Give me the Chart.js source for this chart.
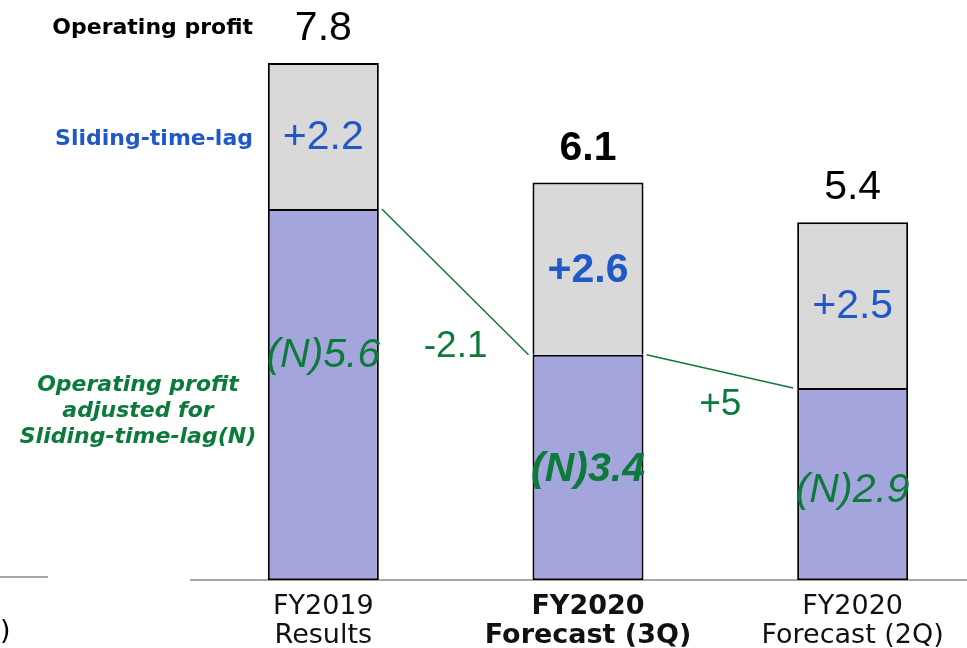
<!DOCTYPE html>
<html><head><meta charset="utf-8">
<script src="https://cdn.jsdelivr.net/npm/chart.js@4/dist/chart.umd.min.js"></script>
<style>
html,body{margin:0;padding:0;overflow:hidden;background:#fff;width:967px;height:648px}
#wrap{position:absolute;left:0;top:0;width:985px;height:663px}
</style>
</head><body><div id="wrap"><canvas id="c" width="985" height="663"></canvas></div>
<script>
const categories = [['FY2019','Results'],['FY2020','Forecast (3Q)'],['FY2020','Forecast (2Q)']];
const adjustedProfit = [5.6, 3.4, 2.9];
const slidingTimeLag = [2.2, 2.6, 2.5];
const totalLabels = ['7.8', '6.1', '5.4'];
const lagLabels = ['+2.2', '+2.6', '+2.5'];
const adjustedLabels = ['(N)5.6', '(N)3.4', '(N)2.9'];
const changeLabels = ['-2.1', '+5'];
const highlightIndex = 1;

const GREEN = '#0b7a3b', BLUE = '#2058c8';
const ARIAL = "'Liberation Sans', Arial, Helvetica, sans-serif";

const annotate = {
  id: 'annotate',
  afterDatasetsDraw(chart) {
    const ctx = chart.ctx;
    const ys = chart.scales.y;
    const m0 = chart.getDatasetMeta(0), m1 = chart.getDatasetMeta(1);
    ctx.save();
    ctx.strokeStyle = GREEN; ctx.lineWidth = 1.5;
    const chgOff = [-8, 17];
    for (let i = 0; i < adjustedProfit.length - 1; i++) {
      const a = m0.data[i], b = m0.data[i + 1];
      const x1 = a.x + a.width / 2 + 3, y1 = ys.getPixelForValue(adjustedProfit[i]);
      const x2 = b.x - b.width / 2 - 4, y2 = ys.getPixelForValue(adjustedProfit[i + 1]);
      ctx.beginPath(); ctx.moveTo(x1, y1); ctx.lineTo(x2, y2); ctx.stroke();
      ctx.fillStyle = GREEN; ctx.font = '37px ' + ARIAL;
      ctx.textAlign = 'center'; ctx.textBaseline = 'middle';
      const xm = (a.x + a.width / 2 + b.x - b.width / 2) / 2;
      ctx.fillText(changeLabels[i], xm, y2 + chgOff[i]);
    }
    ctx.textAlign = 'center'; ctx.textBaseline = 'middle';
    const nOff = [-39, 2, 6];
    for (let i = 0; i < categories.length; i++) {
      const p = m0.data[i], g = m1.data[i];
      const bold = i === highlightIndex ? 'bold ' : '';
      ctx.fillStyle = '#000';
      ctx.font = bold + '41px ' + ARIAL;
      ctx.fillText(totalLabels[i], g.x, g.y - 34);
      ctx.fillStyle = BLUE;
      ctx.fillText(lagLabels[i], g.x, (g.y + g.base) / 2 + 2);
      ctx.fillStyle = GREEN;
      ctx.font = 'italic ' + bold + '41px ' + ARIAL;
      ctx.fillText(adjustedLabels[i], p.x, (p.y + p.base) / 2 + nOff[i]);
    }
    ctx.textAlign = 'right';
    ctx.fillStyle = '#000';
    ctx.font = "bold 22px 'DejaVu Sans', sans-serif";
    ctx.fillText('Operating profit', 253, 28);
    ctx.fillStyle = BLUE;
    ctx.fillText('Sliding-time-lag', 253, 139);
    ctx.textAlign = 'center';
    ctx.fillStyle = GREEN;
    ctx.font = "italic bold 22px 'DejaVu Sans', sans-serif";
    ['Operating profit', 'adjusted for', 'Sliding-time-lag(N)'].forEach((t, k) => ctx.fillText(t, 138, 385 + k * 26));
    // cut-off fragment of neighbouring chart
    ctx.strokeStyle = '#a6a6a6'; ctx.lineWidth = 2;
    ctx.beginPath(); ctx.moveTo(0, 577); ctx.lineTo(48, 577); ctx.stroke();
    ctx.fillStyle = '#000'; ctx.textAlign = 'left';
    ctx.font = "27px 'DejaVu Sans', sans-serif";
    ctx.fillText(')', 0, 632);
    ctx.restore();
  }
};

new Chart(document.getElementById('c'), {
  type: 'bar',
  data: {
    labels: categories,
    datasets: [
      { label: 'Operating profit adjusted for Sliding-time-lag(N)', data: adjustedProfit,
        backgroundColor: '#a5a5de', borderColor: '#000', borderWidth: 2, borderSkipped: false },
      { label: 'Sliding-time-lag', data: slidingTimeLag,
        backgroundColor: '#d9d9d9', borderColor: '#000',
        borderWidth: { top: 2, left: 2, right: 2, bottom: 0 }, borderSkipped: false }
    ]
  },
  options: {
    responsive: false, animation: false, devicePixelRatio: 1,
    layout: { padding: { left: 191, right: 0, top: 0, bottom: 0 } },
    plugins: { legend: { display: false }, tooltip: { enabled: false } },
    datasets: { bar: { barPercentage: 1, categoryPercentage: 0.4194 } },
    scales: {
      x: {
        stacked: true,
        grid: { display: false, drawTicks: false },
        border: { display: true, color: '#a6a6a6', width: 2 },
        ticks: {
          color: '#111', padding: 13, maxRotation: 0, autoSkip: false,
          font: (c) => ({ family: "'DejaVu Sans', sans-serif", size: 27, lineHeight: 1.05,
                          weight: c.index === highlightIndex ? 'bold' : 'normal' })
        }
      },
      y: { stacked: true, display: false, min: 0, max: 8.75 }
    }
  },
  plugins: [annotate]
});
</script>
</body></html>
